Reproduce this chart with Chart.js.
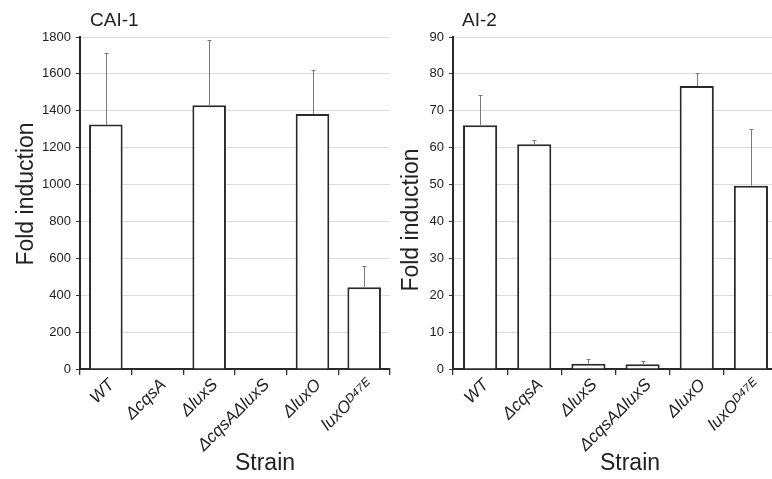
<!DOCTYPE html>
<html>
<head>
<meta charset="utf-8">
<script src="https://cdn.jsdelivr.net/npm/chart.js@4"></script>
<style>
  html, body { margin: 0; padding: 0; background: #fff; }
  #wrap { position: relative; width: 772px; height: 479px; overflow: hidden; }
  .panel { position: absolute; top: 0; height: 479px; }
  #cai1Box { left: 0; width: 392px; }
  #ai2Box { left: 390px; width: 390px; }
</style>
</head>
<body>
<div id="wrap">
  <div class="panel" id="cai1Box"><canvas id="cai1"></canvas></div>
  <div class="panel" id="ai2Box"><canvas id="ai2"></canvas></div>
</div>
<script>
// strains on the x axis (same for both panels)
const strains = ['WT', 'ΔcqsA', 'ΔluxS', 'ΔcqsAΔluxS', 'ΔluxO', 'luxOᴰ⁴⁷ᴱ'];

// CAI-1 panel: mean fold induction and upper error (SD)
const cai1Values = [1325, 2, 1430, 2, 1383, 443];
const cai1Errors = [390, 0, 352, 0, 240, 115];
const cai1Ticks = [0, 200, 400, 600, 800, 1000, 1200, 1400, 1600, 1800];

// AI-2 panel
const ai2Values = [66.1, 60.9, 1.45, 1.3, 76.7, 49.7];
const ai2Errors = [8.3, 1.3, 1.15, 0.95, 3.5, 15.4];
const ai2Ticks = [0, 10, 20, 30, 40, 50, 60, 70, 80, 90];

const FONT = '"Liberation Sans", Arial, sans-serif';
Chart.defaults.font.family = FONT;

// upward-only error bars with a small cap
const errorBars = {
  id: 'errorBars',
  afterDatasetsDraw(chart, args, opts) {
    const ctx = chart.ctx;
    const yScale = chart.scales.y;
    const vals = chart.data.datasets[0].data;
    ctx.save();
    ctx.strokeStyle = '#7a7a7a';
    ctx.lineWidth = 1;
    chart.getDatasetMeta(0).data.forEach((bar, i) => {
      const err = opts.errors[i];
      if (!err) return;
      const x = Math.round(bar.x) + 0.5;
      const yTop = Math.round(yScale.getPixelForValue(vals[i] + err)) + 0.5;
      const yBase = yScale.getPixelForValue(vals[i]);
      ctx.beginPath();
      ctx.moveTo(x, yBase);
      ctx.lineTo(x, yTop);
      ctx.moveTo(x - 2, yTop);
      ctx.lineTo(x + 2, yTop);
      ctx.stroke();
    });
    ctx.restore();
  }
};

// panel title and axis titles
const panelText = {
  id: 'panelText',
  afterDraw(chart, args, o) {
    const ctx = chart.ctx;
    ctx.save();
    ctx.fillStyle = '#222';
    ctx.textBaseline = 'alphabetic';
    ctx.textAlign = 'left';
    ctx.font = '19px ' + FONT;
    ctx.fillText(o.title, o.titleX, 26);
    ctx.textAlign = 'center';
    ctx.font = '23px ' + FONT;
    ctx.fillText('Strain', o.xTitleX, 470);
    ctx.translate(o.yTitleX, o.yTitleY);
    ctx.rotate(-Math.PI / 2);
    ctx.fillText('Fold induction', 0, 0);
    ctx.restore();
  }
};

function makeChart(id, values, errors, ticks, yWidth, barPct, text) {
  const ctx = document.getElementById(id).getContext('2d');
  return new Chart(ctx, {
    type: 'bar',
    data: {
      labels: strains,
      datasets: [{
        data: values,
        backgroundColor: '#fff',
        borderColor: '#2a2a2a',
        borderWidth: 2,
        categoryPercentage: 1,
        barPercentage: barPct
      }]
    },
    options: {
      responsive: true,
      maintainAspectRatio: false,
      animation: false,
      layout: { padding: { top: 37, right: 2, left: 0, bottom: 0 } },
      plugins: {
        legend: { display: false },
        tooltip: { enabled: false },
        errorBars: { errors: errors },
        panelText: text
      },
      scales: {
        x: {
          grid: { drawOnChartArea: false, drawTicks: true, tickLength: 6, color: '#333', lineWidth: 1.3 },
          border: { color: '#2a2a2a', width: 2 },
          ticks: {
            color: '#222',
            font: { size: 17, style: 'italic' },
            minRotation: 45, maxRotation: 45,
            autoSkip: false,
            labelOffset: 6,
            padding: 0
          },
          afterFit: s => { s.height = 110; }
        },
        y: {
          min: ticks[0],
          max: ticks[ticks.length - 1],
          afterBuildTicks: s => { s.ticks = ticks.map(v => ({ value: v })); },
          grid: {
            color: c => c.tick && c.tick.value === 0 ? 'rgba(0,0,0,0)' : '#dcdcdc',
            tickColor: '#333',
            tickLength: 4,
            lineWidth: 1
          },
          border: { color: '#2a2a2a', width: 2 },
          ticks: { color: '#222', font: { size: 13 }, padding: 5, callback: v => String(v) },
          afterFit: s => { s.width = yWidth; }
        }
      }
    },
    plugins: [errorBars, panelText]
  });
}

makeChart('cai1', cai1Values, cai1Errors, cai1Ticks, 80, 0.65,
  { title: 'CAI-1', titleX: 90, xTitleX: 265, yTitleX: 33, yTitleY: 194 });
makeChart('ai2', ai2Values, ai2Errors, ai2Ticks, 63, 0.63,
  { title: 'AI-2', titleX: 72, xTitleX: 240, yTitleX: 28, yTitleY: 220 });
</script>
</body>
</html>
